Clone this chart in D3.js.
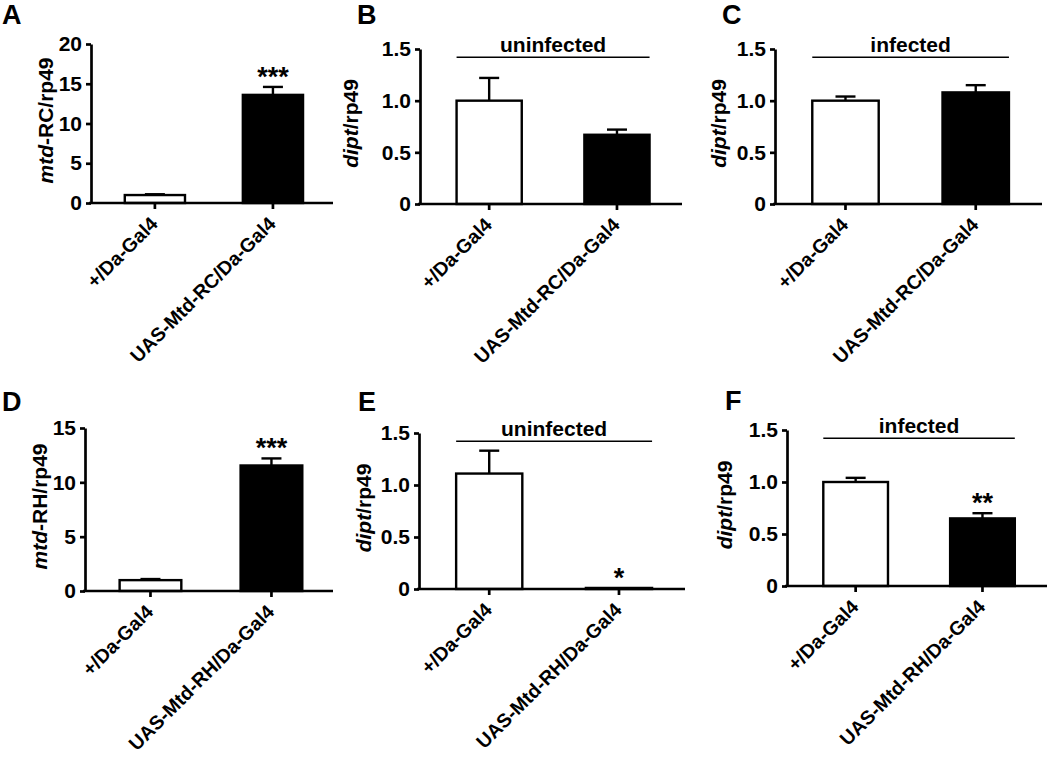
<!DOCTYPE html>
<html>
<head>
<meta charset="utf-8">
<script src="https://cdn.jsdelivr.net/npm/d3@7/dist/d3.min.js"></script>
<style>
  html, body { margin: 0; padding: 0; background: #fff; }
  svg { display: block; }
  text { font-family: "Liberation Sans", Arial, Helvetica, sans-serif; font-weight: bold; fill: #000; }
</style>
</head>
<body>
<svg id="chart" width="1050" height="757"></svg>
<script>
// ---------- data ----------
const categoriesRC = ["+/Da-Gal4", "UAS-Mtd-RC/Da-Gal4"];
const categoriesRH = ["+/Da-Gal4", "UAS-Mtd-RH/Da-Gal4"];

const valuesA = [1.0, 13.6];   const errorsA = [0.1, 1.0];   const sigA = ["", "***"];
const valuesB = [1.0, 0.67];   const errorsB = [0.22, 0.05]; const sigB = ["", ""];
const valuesC = [1.0, 1.08];   const errorsC = [0.04, 0.07]; const sigC = ["", ""];
const valuesD = [1.0, 11.55];  const errorsD = [0.1, 0.65];  const sigD = ["", "***"];
const valuesE = [1.11, 0.01];  const errorsE = [0.22, 0.0];  const sigE = ["", "*"];
const valuesF = [1.0, 0.65];   const errorsF = [0.04, 0.05]; const sigF = ["", "**"];

const ticksMtdRC = [0, 5, 10, 15, 20];
const ticksMtdRH = [0, 5, 10, 15];
const ticksDipt = [0, 0.5, 1.0, 1.5];
const tickLabelsMtdRC = ["0", "5", "10", "15", "20"];
const tickLabelsMtdRH = ["0", "5", "10", "15"];
const tickLabelsDipt = ["0", "0.5", "1.0", "1.5"];

const bracketLabels = ["uninfected", "infected", "uninfected", "infected"];
const panelLetters = ["A", "B", "C", "D", "E", "F"];

// ---------- layout ----------
const panels = [
  { letter: panelLetters[0], lx: 2,   ly: 24,  cats: categoriesRC, vals: valuesA, errs: errorsA, sig: sigA,
    ticks: ticksMtdRC, tickLabels: tickLabelsMtdRC, max: 20, yItal: "mtd", yRest: "-RC/rp49",
    ax: 91, x1: 333, top: 44, bottom: 203, titleOff: 38, bracket: null },
  { letter: panelLetters[1], lx: 357, ly: 24, cats: categoriesRC, vals: valuesB, errs: errorsB, sig: sigB,
    ticks: ticksDipt, tickLabels: tickLabelsDipt, max: 1.5, yItal: "dipt", yRest: "/rp49",
    ax: 420, x1: 682, top: 49, bottom: 204, titleOff: 62, bracket: bracketLabels[0] },
  { letter: panelLetters[2], lx: 722, ly: 24, cats: categoriesRC, vals: valuesC, errs: errorsC, sig: sigC,
    ticks: ticksDipt, tickLabels: tickLabelsDipt, max: 1.5, yItal: "dipt", yRest: "/rp49",
    ax: 775, x1: 1042, top: 49, bottom: 204, titleOff: 49, bracket: bracketLabels[1] },
  { letter: panelLetters[3], lx: 2,   ly: 411, cats: categoriesRH, vals: valuesD, errs: errorsD, sig: sigD,
    ticks: ticksMtdRH, tickLabels: tickLabelsMtdRH, max: 15, yItal: "mtd", yRest: "-RH/rp49",
    ax: 85, x1: 333, top: 428, bottom: 591, titleOff: 38, bracket: null },
  { letter: panelLetters[4], lx: 358, ly: 411, cats: categoriesRH, vals: valuesE, errs: errorsE, sig: sigE,
    ticks: ticksDipt, tickLabels: tickLabelsDipt, max: 1.5, yItal: "dipt", yRest: "/rp49",
    ax: 419, x1: 685, top: 433, bottom: 589, titleOff: 48, bracket: bracketLabels[2] },
  { letter: panelLetters[5], lx: 725, ly: 410, cats: categoriesRH, vals: valuesF, errs: errorsF, sig: sigF,
    ticks: ticksDipt, tickLabels: tickLabelsDipt, max: 1.5, yItal: "dipt", yRest: "/rp49",
    ax: 787, x1: 1047, top: 430, bottom: 586, titleOff: 55, bracket: bracketLabels[3] }
];

const svg = d3.select("#chart");
const AXIS_W = 2.7;

panels.forEach(p => {
  const g = svg.append("g");
  const x = d3.scaleBand().domain(p.cats).range([p.ax, p.x1])
    .paddingInner(0.49).paddingOuter(0.27).align(0.53);
  const y = d3.scaleLinear().domain([0, p.max]).range([p.bottom, p.top]);

  // panel letter
  g.append("text").attr("x", p.lx).attr("y", p.ly).attr("font-size", 27).text(p.letter);

  const data = p.cats.map((c, i) => ({ c, v: p.vals[i], e: p.errs[i], s: p.sig[i], i }));
  // error bars (upper only)
  data.forEach(d => {
    if (d.e <= 0) return;
    const cx = x(d.c) + x.bandwidth() / 2;
    g.append("line").attr("x1", cx).attr("x2", cx).attr("y1", y(d.v)).attr("y2", y(d.v + d.e))
      .attr("stroke", "#000").attr("stroke-width", 2.4);
    g.append("line").attr("x1", cx - 10).attr("x2", cx + 10).attr("y1", y(d.v + d.e)).attr("y2", y(d.v + d.e))
      .attr("stroke", "#000").attr("stroke-width", 2.4);
  });
  g.selectAll("rect.bar").data(data).enter().append("rect")
    .attr("class", "bar")
    .attr("x", d => x(d.c))
    .attr("width", x.bandwidth())
    .attr("y", d => y(d.v))
    .attr("height", d => y(0) - y(d.v))
    .attr("fill", d => d.i === 0 ? "#fff" : "#000")
    .attr("stroke", "#000").attr("stroke-width", 2.4);

  // significance stars
  data.forEach(d => {
    if (!d.s) return;
    const cx = x(d.c) + x.bandwidth() / 2;
    g.append("text").attr("x", cx).attr("y", y(d.v + d.e) - 1)
      .attr("text-anchor", "middle").attr("font-size", 27).text(d.s);
  });

  // y axis
  const yAxis = d3.axisLeft(y).tickValues(p.ticks)
    .tickFormat((t, i) => p.tickLabels[i]).tickSize(5).tickSizeOuter(0).tickPadding(4);
  const ya = g.append("g").attr("transform", `translate(${p.ax},0)`).call(yAxis);
  ya.select(".domain").attr("stroke-width", AXIS_W).attr("stroke", "#000");
  ya.selectAll(".tick line").attr("stroke-width", AXIS_W).attr("stroke", "#000");
  ya.selectAll(".tick text").attr("font-size", 21).attr("font-family", null).attr("fill", "#000");

  // x axis
  const xAxis = d3.axisBottom(x).tickSize(6).tickSizeOuter(0).tickFormat("");
  const xa = g.append("g").attr("transform", `translate(0,${p.bottom})`).call(xAxis);
  xa.select(".domain").attr("stroke-width", AXIS_W).attr("stroke", "#000")
    .attr("d", `M${p.ax - 2},0H${p.x1}`);
  xa.selectAll(".tick line").attr("stroke-width", AXIS_W).attr("stroke", "#000");

  // rotated category labels
  p.cats.forEach(c => {
    const cx = x(c) + x.bandwidth() / 2;
    g.append("text")
      .attr("transform", `translate(${cx + 4},${p.bottom + 22}) rotate(-45)`)
      .attr("text-anchor", "end").attr("font-size", 19.5).text(c);
  });

  // y title
  const yt = g.append("text")
    .attr("transform", `translate(${p.ax - p.titleOff},${(p.top + p.bottom) / 2 - 3}) rotate(-90)`)
    .attr("text-anchor", "middle").attr("font-size", 21);
  yt.append("tspan").attr("font-style", "italic").text(p.yItal);
  yt.append("tspan").text(p.yRest);

  // bracket
  if (p.bracket) {
    const bx0 = x(p.cats[0]);
    const bx1 = x(p.cats[1]) + x.bandwidth();
    const by = y(1.42);
    g.append("line").attr("x1", bx0).attr("x2", bx1).attr("y1", by).attr("y2", by)
      .attr("stroke", "#000").attr("stroke-width", 1.5);
    g.append("text").attr("x", (bx0 + bx1) / 2).attr("y", by - 5)
      .attr("text-anchor", "middle").attr("font-size", 21).text(p.bracket);
  }
});
</script>
</body>
</html>
